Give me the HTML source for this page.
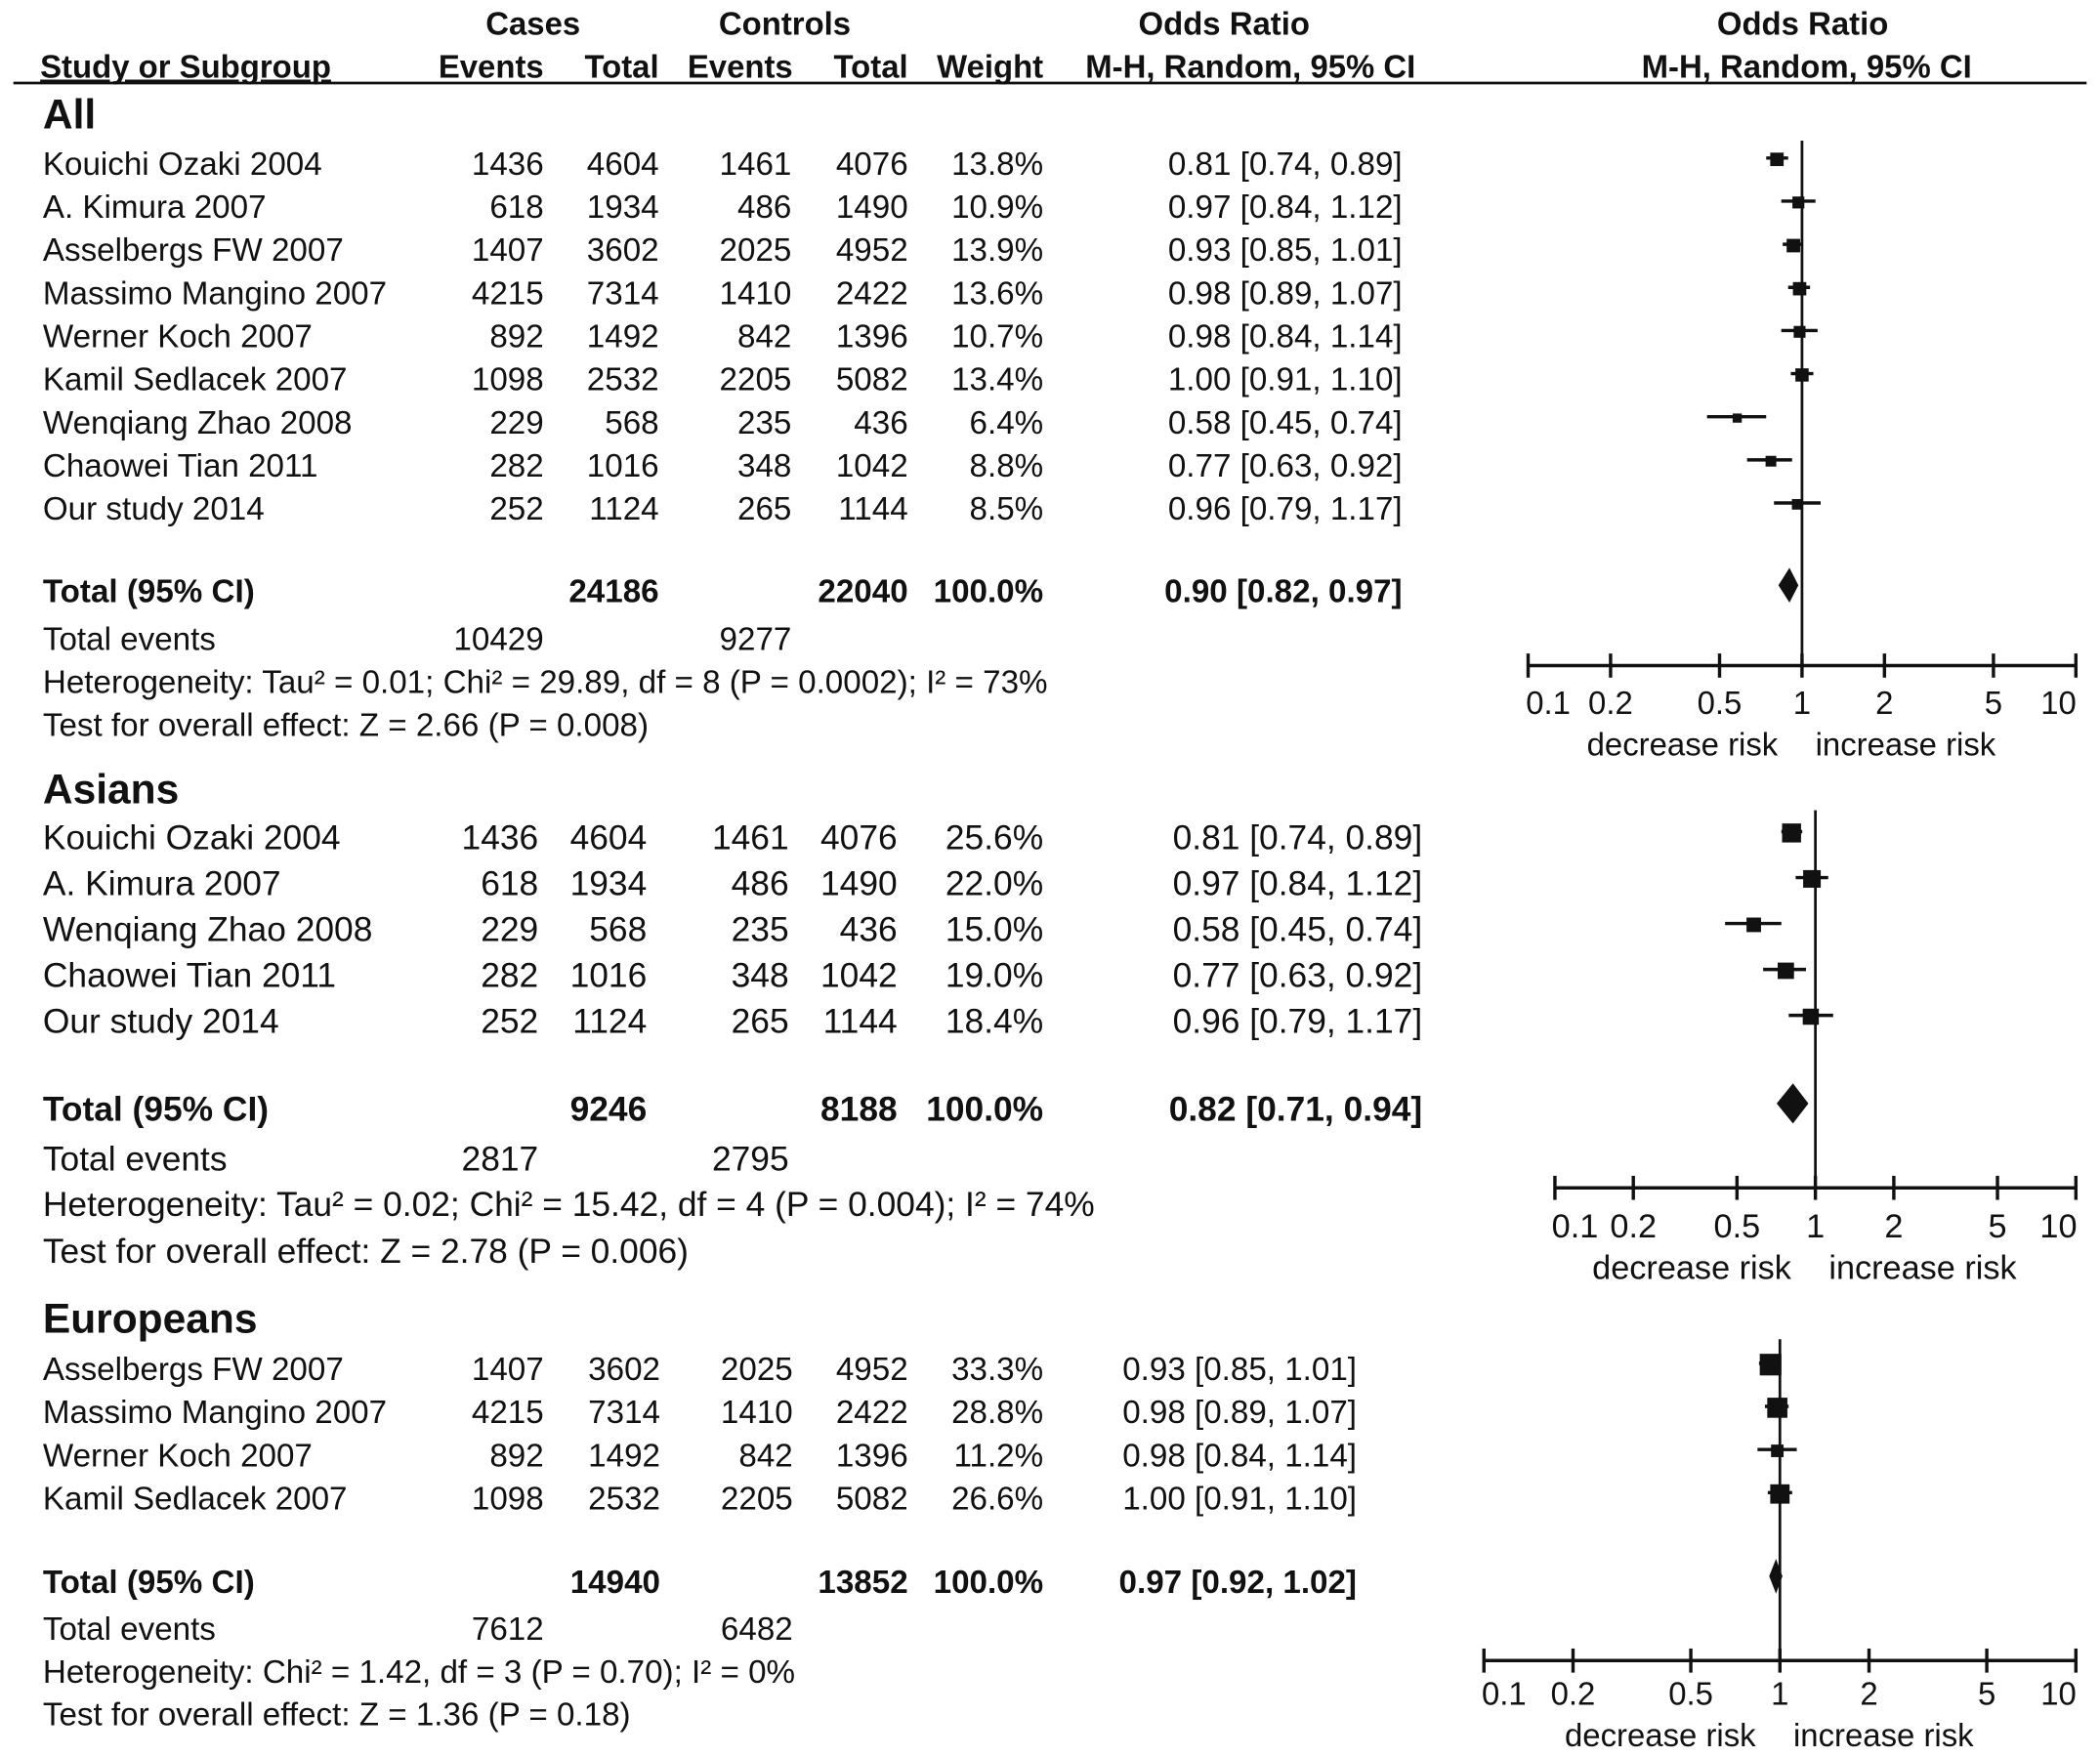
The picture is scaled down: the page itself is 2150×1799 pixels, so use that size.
<!DOCTYPE html>
<html><head><meta charset="utf-8"><style>
html,body{margin:0;padding:0;background:#fff}
svg{display:block}
text{font-family:"Liberation Sans",Arial,sans-serif;fill:#111}
</style></head><body>
<svg id="svg" width="2150" height="1799" viewBox="0 0 1568 1312" preserveAspectRatio="none" xmlns="http://www.w3.org/2000/svg">
<g font-weight="bold" font-size="24">
<text x="398" y="26" text-anchor="middle">Cases</text>
<text x="586" y="26" text-anchor="middle">Controls</text>
<text x="914" y="26" text-anchor="middle">Odds Ratio</text>
<text x="1346" y="26" text-anchor="middle">Odds Ratio</text>
<text x="30" y="58" text-decoration="underline">Study or Subgroup</text>
<text x="406" y="58" text-anchor="end">Events</text>
<text x="492" y="58" text-anchor="end">Total</text>
<text x="592" y="58" text-anchor="end">Events</text>
<text x="678" y="58" text-anchor="end">Total</text>
<text x="779" y="58" text-anchor="end">Weight</text>
<text x="1057" y="58" text-anchor="end">M-H, Random, 95% CI</text>
<text x="1349" y="58" text-anchor="middle">M-H, Random, 95% CI</text>
</g>
<line x1="10" y1="62" x2="1558" y2="62" stroke="#111" stroke-width="2"/>
</svg>
<script>
// Panel 1: All
const allStudies=["Kouichi Ozaki 2004","A. Kimura 2007","Asselbergs FW 2007","Massimo Mangino 2007","Werner Koch 2007","Kamil Sedlacek 2007","Wenqiang Zhao 2008","Chaowei Tian 2011","Our study 2014"];
const allCaseEvents=[1436,618,1407,4215,892,1098,229,282,252];
const allCaseTotal=[4604,1934,3602,7314,1492,2532,568,1016,1124];
const allCtrlEvents=[1461,486,2025,1410,842,2205,235,348,265];
const allCtrlTotal=[4076,1490,4952,2422,1396,5082,436,1042,1144];
const allWeight=[13.8,10.9,13.9,13.6,10.7,13.4,6.4,8.8,8.5];
const allOR=[0.81,0.97,0.93,0.98,0.98,1.00,0.58,0.77,0.96];
const allLo=[0.74,0.84,0.85,0.89,0.84,0.91,0.45,0.63,0.79];
const allHi=[0.89,1.12,1.01,1.07,1.14,1.10,0.74,0.92,1.17];
const allTotal=[24186,22040,10429,9277,0.90,0.82,0.97];
// Panel 2: Asians
const asStudies=["Kouichi Ozaki 2004","A. Kimura 2007","Wenqiang Zhao 2008","Chaowei Tian 2011","Our study 2014"];
const asCaseEvents=[1436,618,229,282,252];
const asCaseTotal=[4604,1934,568,1016,1124];
const asCtrlEvents=[1461,486,235,348,265];
const asCtrlTotal=[4076,1490,436,1042,1144];
const asWeight=[25.6,22.0,15.0,19.0,18.4];
const asOR=[0.81,0.97,0.58,0.77,0.96];
const asLo=[0.74,0.84,0.45,0.63,0.79];
const asHi=[0.89,1.12,0.74,0.92,1.17];
const asTotal=[9246,8188,2817,2795,0.82,0.71,0.94];
// Panel 3: Europeans
const euStudies=["Asselbergs FW 2007","Massimo Mangino 2007","Werner Koch 2007","Kamil Sedlacek 2007"];
const euCaseEvents=[1407,4215,892,1098];
const euCaseTotal=[3602,7314,1492,2532];
const euCtrlEvents=[2025,1410,842,2205];
const euCtrlTotal=[4952,2422,1396,5082];
const euWeight=[33.3,28.8,11.2,26.6];
const euOR=[0.93,0.98,0.98,1.00];
const euLo=[0.85,0.89,0.84,0.91];
const euHi=[1.01,1.07,1.14,1.10];
const euTotal=[14940,13852,7612,6482,0.97,0.92,1.02];
const tickVals=[0.1,0.2,0.5,1,2,5,10];
const tickLabels=["0.1","0.2","0.5","1","2","5","10"];

const NS="http://www.w3.org/2000/svg";
const svg=document.getElementById('svg');
function mk(tag,attrs,parent){const e=document.createElementNS(NS,tag);for(const k in attrs)e.setAttribute(k,attrs[k]);(parent||svg).appendChild(e);return e;}
function txt(s,x,y,anchor,size,bold,parent,name){const t=mk('text',{x:x,y:y,'text-anchor':anchor||'start','font-size':size||24},parent);if(bold)t.setAttribute('font-weight','bold');t.textContent=s;


return t;}
const f2=v=>v.toFixed(2);

function panel(cfg){
  const g=mk('g',{});
  
  
  const fs=cfg.fs;
  const xs=v=>cfg.x0+(Math.log10(v)+1)/2*(cfg.x1-cfg.x0);
  txt(cfg.title,32,cfg.titleY,'start',31,true,g,'section-title');
  cfg.studies.forEach((s,i)=>{
    const y=cfg.rowY[0]+i*cfg.rowStep, b=y+fs*0.35;
    txt(s,32,b,'start',fs,false,g,'study-name');
    txt(String(cfg.ce[i]),cfg.cols[0],b,'end',fs,false,g,'case-events');
    txt(String(cfg.ct[i]),cfg.cols[1],b,'end',fs,false,g,'case-total');
    txt(String(cfg.he[i]),cfg.cols[2],b,'end',fs,false,g,'control-events');
    txt(String(cfg.ht[i]),cfg.cols[3],b,'end',fs,false,g,'control-total');
    txt(cfg.w[i].toFixed(1)+'%',cfg.cols[4],b,'end',fs,false,g,'weight');
    txt(f2(cfg.or[i])+' ['+f2(cfg.lo[i])+', '+f2(cfg.hi[i])+']',cfg.cols[5],b,'end',fs,false,g,'odds-ratio-ci');
    const ly=y-4;
    const l=mk('line',{x1:xs(cfg.lo[i]),x2:xs(cfg.hi[i]),y1:ly,y2:ly,stroke:'#111','stroke-width':2.5},g);
    
    
    const sz=cfg.sq*Math.sqrt(cfg.w[i]);
    const r=mk('rect',{x:xs(cfg.or[i])-sz/2,y:ly-sz/2+1,width:sz,height:sz,fill:'#111'},g);
    
    
  });
  const T=cfg.tot, tb=cfg.totY+fs*0.35;
  txt('Total (95% CI)',32,tb,'start',fs,true,g,'total-label');
  txt(String(T[0]),cfg.cols[1],tb,'end',fs,true,g,'total-cases');
  txt(String(T[1]),cfg.cols[3],tb,'end',fs,true,g,'total-controls');
  txt('100.0%',cfg.cols[4],tb,'end',fs,true,g,'total-weight');
  txt(f2(T[4])+' ['+f2(T[5])+', '+f2(T[6])+']',cfg.cols[5],tb,'end',fs,true,g,'total-odds-ratio');
  const eb=cfg.evY+fs*0.35;
  txt('Total events',32,eb,'start',fs,false,g,'total-events-label');
  txt(String(T[2]),cfg.cols[0],eb,'end',fs,false,g,'total-case-events');
  txt(String(T[3]),cfg.cols[2],eb,'end',fs,false,g,'total-control-events');
  txt(cfg.het,32,cfg.hetY+fs*0.35,'start',fs,false,g,'heterogeneity');
  txt(cfg.test,32,cfg.testY+fs*0.35,'start',fs,false,g,'overall-effect');
  const dy=cfg.totY-4, dh=cfg.dh;
  const d=mk('polygon',{points:`${xs(T[5])},${dy} ${xs(T[4])},${dy-dh/2} ${xs(T[6])},${dy} ${xs(T[4])},${dy+dh/2}`,fill:'#111'},g);
  
  
  const nl=mk('line',{x1:xs(1),x2:xs(1),y1:cfg.vTop,y2:cfg.axY,stroke:'#111','stroke-width':2},g);
  
  
  const ax=mk('line',{x1:xs(0.1),x2:xs(10),y1:cfg.axY,y2:cfg.axY,stroke:'#111','stroke-width':2.5},g);
  
  
  tickVals.forEach((v,i)=>{
    const tk=mk('line',{x1:xs(v),x2:xs(v),y1:cfg.axY-9,y2:cfg.axY+9,stroke:'#111','stroke-width':2.5},g);
    
    
    let tx=xs(v); if(i===0)tx+=15; if(i===6)tx-=13;
    txt(tickLabels[i],tx,cfg.axY+cfg.tickDy,'middle',cfg.afs,false,g,'x-tick-label');
  });
  txt('decrease risk',xs(1)-18,cfg.axY+cfg.tickDy+31,'end',cfg.afs,false,g,'decrease-risk-label');
  txt('increase risk',xs(1)+10,cfg.axY+cfg.tickDy+31,'start',cfg.afs,false,g,'increase-risk-label');
}

panel({name:'panel-all',title:'All',titleY:96,fs:24.2,afs:24,studies:allStudies,ce:allCaseEvents,ct:allCaseTotal,he:allCtrlEvents,ht:allCtrlTotal,w:allWeight,or:allOR,lo:allLo,hi:allHi,tot:allTotal,
 rowY:[122],rowStep:32.2,cols:[406,492,591,678,779,1047],totY:441,evY:477,hetY:509,testY:541,
 het:'Heterogeneity: Tau² = 0.01; Chi² = 29.89, df = 8 (P = 0.0002); I² = 73%',test:'Test for overall effect: Z = 2.66 (P = 0.008)',
 x0:1141,x1:1550,sq:2.7,dh:26,vTop:105,axY:497,tickDy:36});
panel({name:'panel-asians',title:'Asians',titleY:600,fs:25.8,afs:25,studies:asStudies,ce:asCaseEvents,ct:asCaseTotal,he:asCtrlEvents,ht:asCtrlTotal,w:asWeight,or:asOR,lo:asLo,hi:asHi,tot:asTotal,
 rowY:[625],rowStep:34.3,cols:[402,483,589,670,779,1062],totY:828,evY:865,hetY:899,testY:934,
 het:'Heterogeneity: Tau² = 0.02; Chi² = 15.42, df = 4 (P = 0.004); I² = 74%',test:'Test for overall effect: Z = 2.78 (P = 0.006)',
 x0:1161,x1:1550,sq:2.8,dh:30,vTop:605,axY:887,tickDy:37});
panel({name:'panel-europeans',title:'Europeans',titleY:995,fs:24.2,afs:24,studies:euStudies,ce:euCaseEvents,ct:euCaseTotal,he:euCtrlEvents,ht:euCtrlTotal,w:euWeight,or:euOR,lo:euLo,hi:euHi,tot:euTotal,
 rowY:[1022],rowStep:32.2,cols:[406,493,592,678,779,1013],totY:1181,evY:1216,hetY:1248,testY:1280,
 het:'Heterogeneity: Chi² = 1.42, df = 3 (P = 0.70); I² = 0%',test:'Test for overall effect: Z = 1.36 (P = 0.18)',
 x0:1108,x1:1550,sq:2.8,dh:26,vTop:1000,axY:1240,tickDy:33});
</script>
</body></html>
